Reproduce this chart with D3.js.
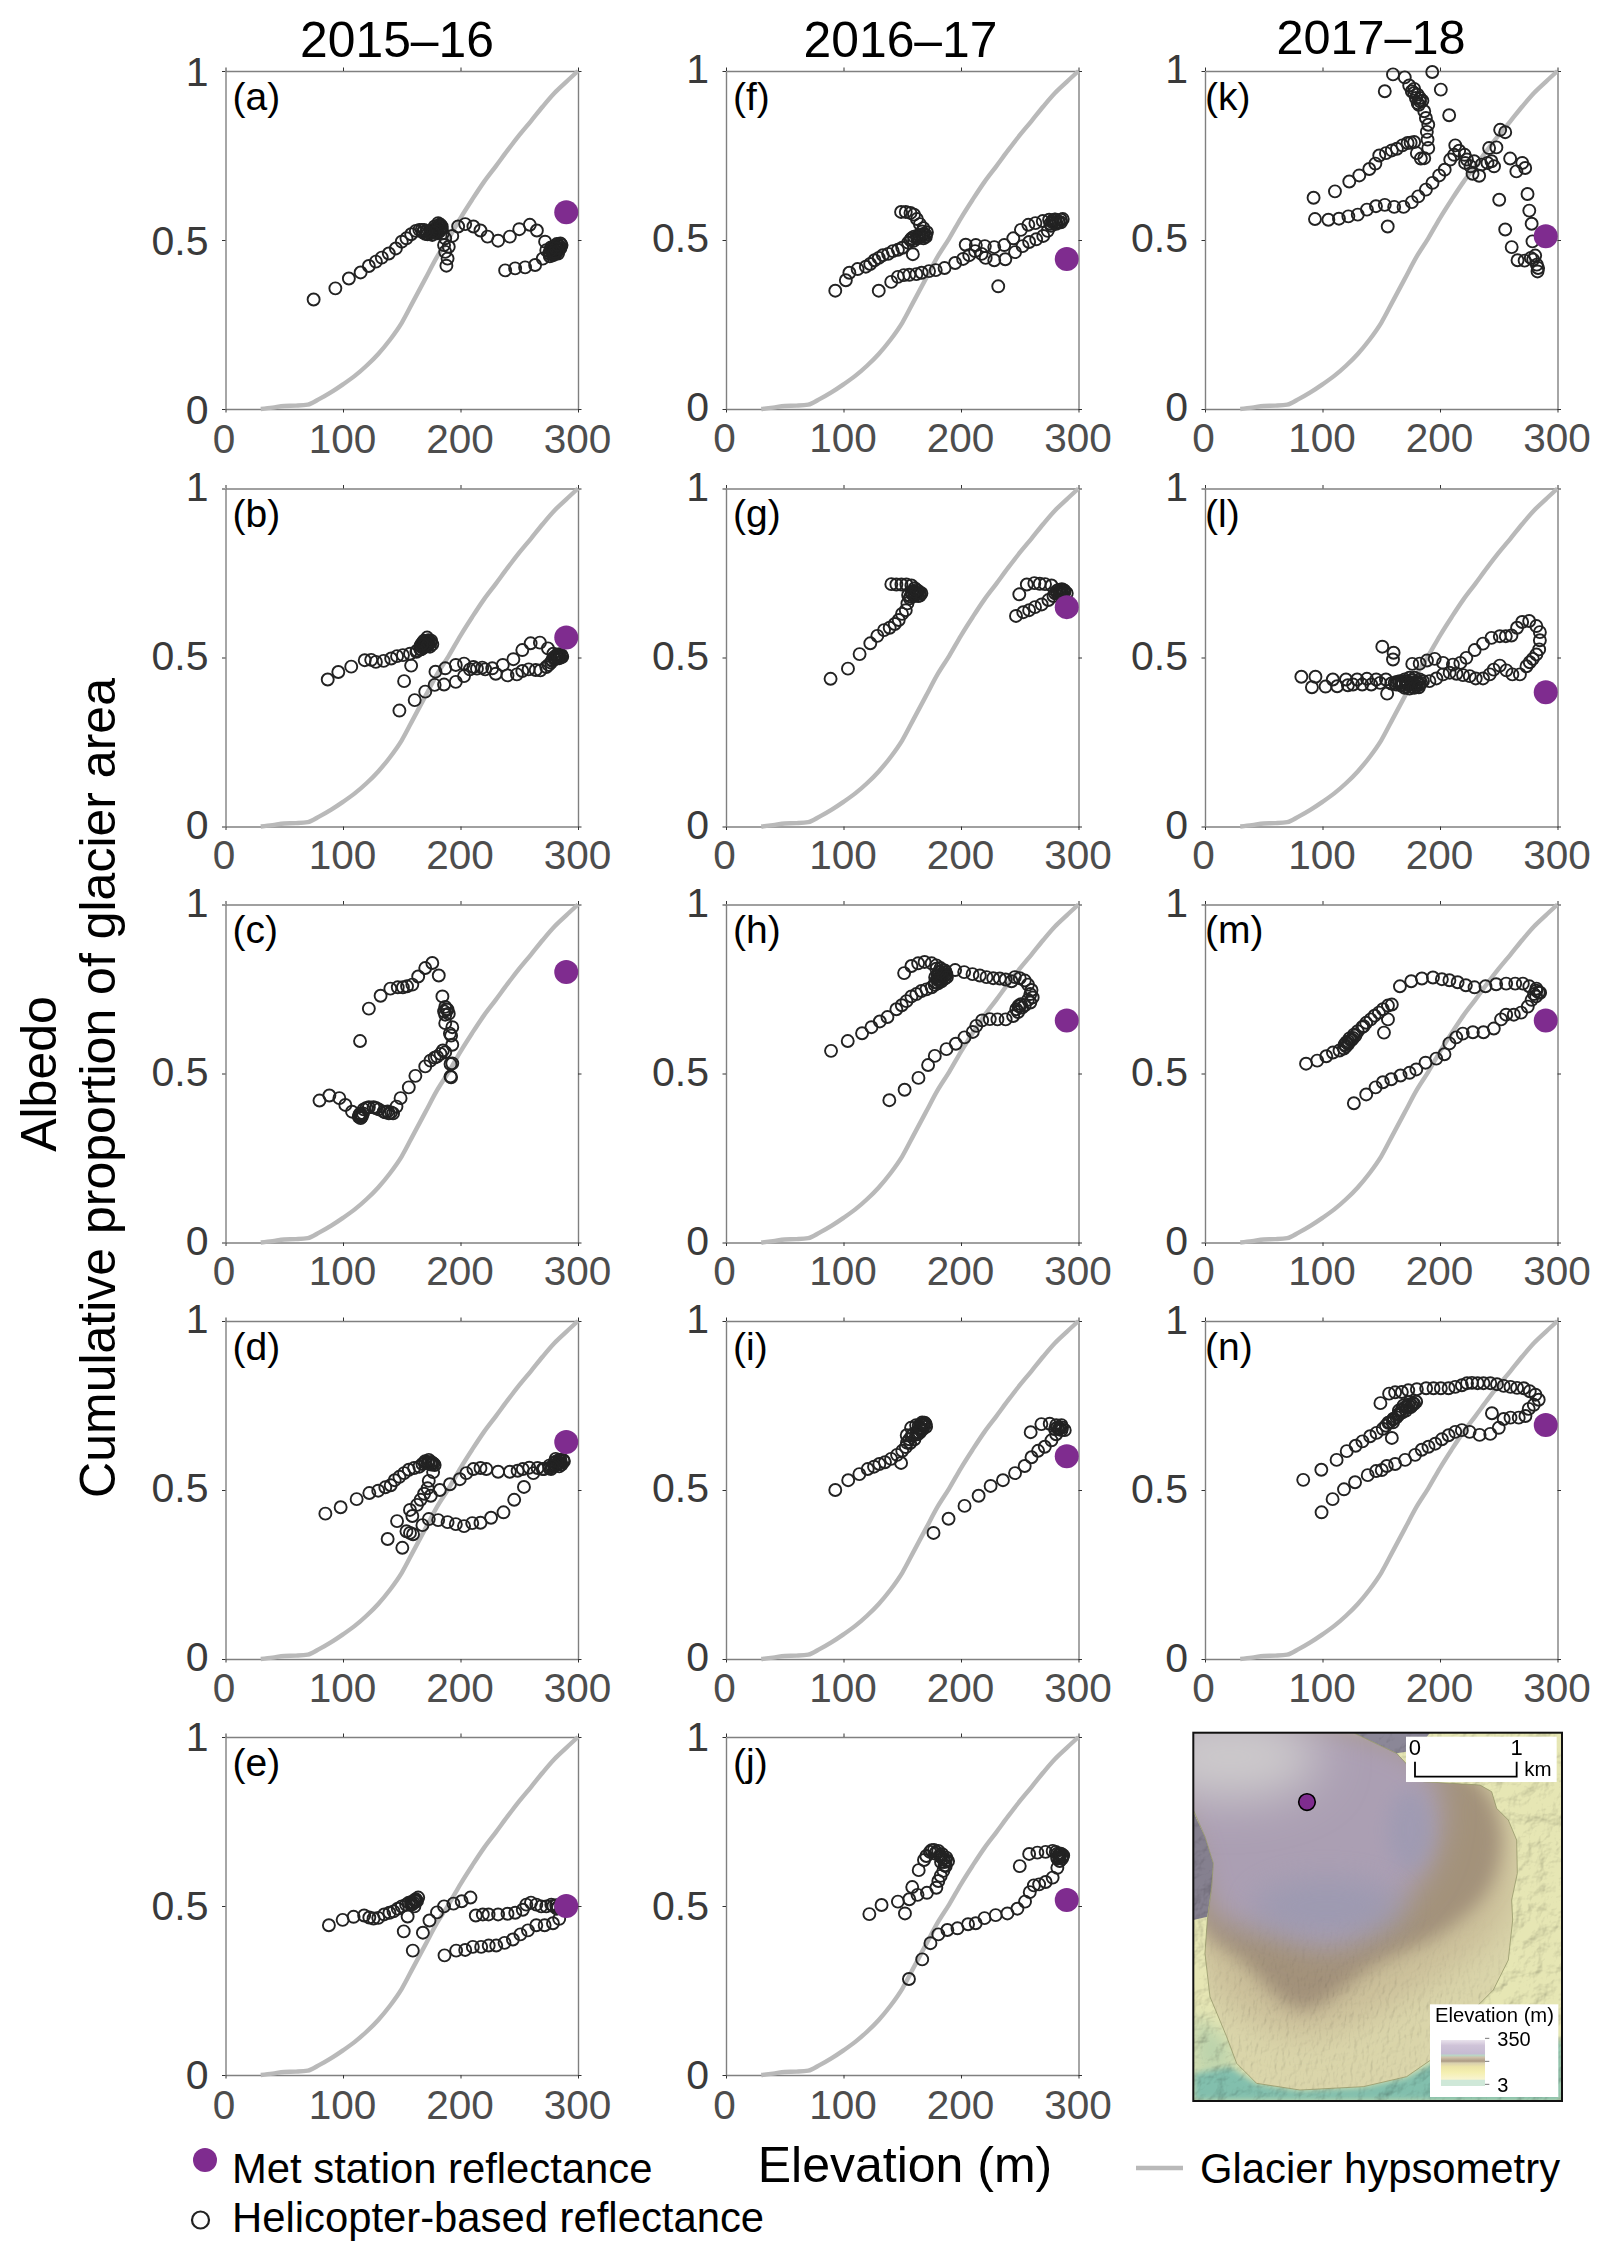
<!DOCTYPE html>
<html><head><meta charset="utf-8">
<script src="https://cdnjs.cloudflare.com/ajax/libs/d3/7.8.5/d3.min.js"></script>
<style>html,body{margin:0;padding:0;background:#fff}svg{display:block}text{font-family:"Liberation Sans",Arial,sans-serif}</style>
</head><body><svg id="c" width="1610" height="2258" viewBox="0 0 1610 2258"></svg>
<script>
// ---------- data: [elevation m, reflectance] ----------
const seasons = ["2015–16","2016–17","2017–18"];
const xTicks = [0,100,200,300];
const yTicks = [0,0.5,1];
const hypsometry = [[30,0],[40,.004],[50,.009],[60,.01],[70,.013],[80,.03],[90,.05],[100,.073],[110,.098],[120,.128],[130,.163],[140,.205],[150,.255],[160,.32],[170,.385],[180,.45],[190,.505],[200,.565],[210,.62],[220,.672],[230,.718],[240,.765],[250,.81],[260,.852],[270,.895],[280,.935],[290,.968],[300,1]];
const metStation = {a:[290,.582],b:[290,.559],c:[290,.8],d:[290,.642],e:[290,.5],f:[290,.444],g:[290,.649],h:[290,.657],i:[290,.6],j:[290,.518],k:[290,.511],l:[290,.397],m:[290,.657],n:[290,.692]};

const heliA = [[75,.324],[93.5,.357],[105,.386],[115,.404],[122,.423],[128,.436],[133,.448],[139,.46],[145,.475],[150,.495],[154,.505],[158,.517],[162,.527],[165,.53],[168,.523],[170,.518],[172,.517],[174,.52],[175,.525],[177,.53],[178.6,.53],[180,.535],[181,.54],[182,.545],[183,.53],[184,.535],[185,.52],[180,.52],[176,.515],[187,.505],[186,.485],[190,.48],[187,.465],[189,.445],[188,.424],[193,.512],[198,.54],[204,.547],[211,.54],[217,.528],[223,.51],[232,.498],[242,.51],[250,.532],[259,.545],[265,.528],[272,.495],[270,.445],[263.5,.426],[255,.419],[246.5,.416],[238,.41],[273,.47],[275.5,.46],[278,.465],[280,.47],[283,.475],[284.5,.482],[283,.47],[281,.46],[279,.472],[277,.478],[281,.482],[285,.49],[282,.488],[279,.455],[276,.452]];
const denseA = [[176,.53],[178,.54],[180,.53],[182,.525],[184,.54],[179,.525],[181,.55],[183,.545],[177,.522],[171,.525],[167,.53],[169,.53],[276,.465],[278,.475],[280,.48],[282,.465],[284,.475],[286,.485],[285,.475],[283,.46],[279,.46],[281,.475],[277,.47],[283,.485],[280,.465]];
const heliB = [[87,.435],[96,.457],[107,.473],[118.5,.492],[124,.493],[128,.487],[134.6,.49],[141,.497],[146,.504],[151,.507],[157,.511],[162.5,.517],[166.5,.524],[168.7,.539],[170,.549],[173,.551],[174.5,.544],[171.6,.534],[168.7,.529],[165.9,.524],[176,.539],[171.6,.559],[168,.545],[172,.542],[166,.535],[174,.532],[158,.476],[152,.43],[148,.343],[161,.374],[170,.399],[178,.419],[186,.42],[196,.428],[203,.445],[208,.465],[214,.467],[221,.465],[230,.452],[240,.447],[248,.45],[252.6,.46],[258,.465],[264,.463],[268,.462],[273,.472],[277,.485],[279.5,.5],[282,.504],[286.6,.502],[284,.498],[281,.496],[278,.492],[275,.478],[178.7,.458],[187,.468],[196,.478],[203,.482],[211,.472],[218.5,.47],[227,.468],[236,.478],[245,.495],[252.6,.522],[259.7,.542],[267.6,.544],[274.4,.527],[279,.511],[283.8,.504]];
const denseB = [[167,.53],[169,.55],[172,.55],[170,.54],[173,.545],[169,.535],[175,.55],[172,.535],[167,.54],[163,.52],[282,.5],[284,.51],[280,.495],[286,.507],[278,.49],[283,.505],[285,.5],[281,.505]];
const heliC = [[114.5,.596],[122,.692],[132,.73],[140.3,.751],[146.6,.755],[151,.755],[154.5,.758],[159,.763],[164,.787],[170,.812],[176,.827],[181.5,.79],[184.6,.728],[187,.697],[186,.684],[189,.689],[187,.674],[190,.677],[188,.69],[187,.649],[193,.637],[191,.618],[192,.612],[193,.585],[187,.563],[183,.558],[180,.55],[178,.547],[185,.568],[174.4,.538],[170,.521],[161.6,.493],[156,.459],[149,.427],[145.5,.402],[142.6,.382],[139,.382],[136,.385],[134.6,.387],[130.4,.394],[128,.398],[126,.4],[122,.4],[120,.398],[117.6,.394],[114.8,.382],[113.4,.372],[115,.368],[116,.376],[107.7,.387],[102,.407],[96.9,.427],[88.4,.435],[80,.42],[191.5,.528],[193,.53],[191.5,.491],[192,.489]];
const denseC = [[117,.382],[114,.378],[116,.372],[141,.385],[138,.388]];
const heliD = [[85,.43],[98,.449],[111.6,.473],[122.4,.491],[130,.498],[136,.508],[140.6,.514],[144,.529],[148,.539],[152,.55],[156,.56],[160.5,.565],[165,.569],[167.6,.577],[170,.585],[173,.589],[176,.58],[178,.574],[172,.582],[175,.575],[176.7,.553],[173,.527],[172,.505],[169,.489],[166,.471],[163,.456],[159,.423],[157,.441],[146,.408],[154,.378],[159.6,.369],[157,.373],[138,.355],[150.5,.329],[167.6,.396],[173,.414],[181,.411],[189,.405],[196,.399],[203,.393],[210,.402],[217,.403],[226,.418],[236.6,.434],[245.7,.471],[254,.509],[262,.55],[270,.562],[275.6,.565],[281,.573],[285.5,.58],[288,.585],[284,.57],[281,.592],[174.7,.483],[182.4,.5],[191,.517],[199.4,.532],[205,.55],[211,.562],[217,.565],[222,.562],[232,.554],[242,.554],[248.6,.557],[253,.562],[258.5,.566],[265.6,.565],[271,.562],[275.6,.572],[280,.582],[284,.589],[287.5,.588],[277,.562],[283,.578]];
const denseD = [[170,.58],[173,.58],[175,.583],[177,.578],[282,.575],[284,.58],[286,.575],[280,.572],[285,.59],[282,.585],[278,.57]];
const heliE = [[88,.443],[99.7,.459],[109,.468],[118,.472],[122.4,.466],[126,.463],[130,.465],[135,.475],[139.5,.48],[143,.484],[146.6,.492],[150,.499],[153.7,.504],[158,.511],[160.8,.517],[164,.525],[162,.513],[159,.505],[156,.51],[155,.469],[160.8,.499],[151.7,.425],[168,.421],[159.4,.368],[173.6,.457],[180,.481],[186,.499],[194,.507],[201,.514],[208.5,.525],[213,.472],[219,.475],[223.9,.475],[232,.475],[240,.477],[246.6,.48],[253,.489],[256,.504],[260,.51],[264.5,.504],[268.7,.499],[273,.499],[277.3,.504],[281.5,.502],[285.8,.499],[284,.462],[278.7,.449],[271.6,.443],[264.5,.443],[257.4,.428],[251,.416],[244.6,.401],[237.5,.391],[230.4,.383],[224,.383],[217.6,.379],[210.5,.379],[204,.37],[196.3,.368],[186.4,.354]];
const denseE = [[160,.51],[162,.52],[158,.505],[163,.515],[279,.5],[283,.497],[286,.495],[282,.492]];
const heliF = [[93,.35],[102,.381],[105,.403],[112,.414],[119,.421],[122.7,.429],[126.4,.44],[130,.447],[133.5,.455],[138,.459],[142,.467],[146.3,.471],[150,.477],[155,.492],[158,.505],[162.6,.509],[166.8,.512],[170,.509],[171,.523],[168,.535],[165,.547],[162.5,.562],[160,.575],[157,.58],[153,.583],[149,.583],[160,.51],[164,.515],[168,.518],[159,.458],[130,.35],[140.6,.376],[146.3,.391],[151.4,.396],[156,.397],[162,.399],[166.5,.403],[172.8,.408],[178.5,.411],[186,.417],[195,.432],[201.8,.444],[207,.455],[212,.467],[217.5,.459],[221,.447],[228.3,.44],[237.7,.443],[246,.464],[252.4,.482],[258,.494],[264,.502],[270,.512],[273.8,.527],[276.7,.542],[281,.553],[285,.56],[278,.558],[283,.552],[276,.548],[204,.486],[212.6,.485],[220.3,.482],[228.3,.479],[236.8,.485],[244.5,.505],[251,.53],[257.3,.545],[263.3,.55],[269.6,.556],[275,.56],[280,.561],[286.6,.562],[231.7,.363]];
const denseF = [[165,.51],[168,.505],[170,.515],[167,.525],[163,.505],[160,.498],[157,.5],[280,.56],[283,.555],[281,.548],[278,.552],[285,.552]];
const heliG = [[89,.437],[103.8,.467],[113.7,.51],[122.8,.542],[128.8,.564],[134.5,.581],[139.3,.588],[143.6,.599],[147,.611],[149.8,.629],[153,.64],[154.4,.66],[156.4,.675],[160,.682],[163.5,.682],[166.3,.69],[163.5,.697],[160.6,.705],[157.8,.713],[153.5,.716],[149.3,.716],[145,.716],[140.7,.717],[158,.69],[162,.692],[165,.683],[155,.685],[246.8,.623],[253,.634],[258,.64],[263,.649],[268.7,.657],[274.4,.67],[278.7,.682],[281.5,.697],[285.8,.702],[290,.69],[286,.687],[282,.69],[288,.698],[284,.695],[277,.713],[271.5,.717],[267,.718],[262.4,.72],[256,.716],[249.6,.687]];
const denseG = [[158,.695],[161,.685],[163,.69],[165,.69],[160,.695],[162,.7],[157,.68],[284,.69],[287,.7],[285,.7],[288,.693],[280,.69],[283,.7]];
const heliH = [[89.4,.567],[103.6,.596],[115.8,.619],[123.8,.637],[130.9,.654],[137.4,.667],[145,.69],[149.6,.702],[153.6,.714],[157.8,.728],[162,.735],[166.3,.744],[170.6,.749],[175,.755],[177.7,.762],[180.5,.767],[183.4,.773],[186.2,.781],[187.6,.793],[186.2,.805],[182.5,.812],[179,.82],[175,.826],[169,.83],[163.5,.826],[157.8,.818],[151.6,.797],[183,.788],[180,.78],[184,.796],[178,.77],[181,.8],[195,.806],[202.7,.8],[209.8,.794],[216,.79],[221.7,.785],[227.4,.782],[233,.781],[238,.778],[243,.773],[245.8,.785],[250,.782],[254.3,.775],[257,.763],[260,.747],[261,.725],[259,.71],[254.3,.702],[250,.699],[248.6,.682],[244.4,.67],[238,.66],[231,.66],[224.5,.661],[218,.657],[213,.641],[210,.623],[203,.607],[195.6,.588],[187.6,.572],[177.7,.552],[172,.525],[163.8,.487],[152,.452],[139,.421],[247,.69],[252,.695],[257,.718],[259,.735]];
const denseH = [[183,.78],[186,.79],[181,.775],[184,.785],[187,.8],[184,.805],[180,.79],[178,.785],[182,.8],[188,.785],[179,.81],[249,.7],[251,.705]];
const heliI = [[93,.5],[104,.529],[113.5,.547],[120.6,.562],[126,.569],[130.5,.577],[135.3,.582],[140.5,.592],[145.6,.604],[150,.616],[153,.627],[156.7,.639],[160.4,.65],[164.6,.669],[167.5,.68],[170.3,.687],[169,.699],[166,.695],[161.8,.692],[157.5,.684],[153.8,.662],[149,.58],[165,.68],[168,.69],[163,.665],[158,.66],[176.6,.373],[189.4,.415],[203,.453],[215,.483],[225.2,.512],[235.7,.529],[246,.55],[254.2,.571],[260,.597],[265.6,.616],[271.3,.628],[277,.647],[281,.665],[285.5,.677],[288.3,.677],[285.5,.692],[281,.692],[284,.683],[280,.68],[275.5,.696],[268.4,.695],[259.3,.671]];
const denseI = [[165,.685],[168,.695],[166,.675],[162,.67],[159,.665],[170,.695],[167,.7],[164,.69],[156,.65],[154,.64],[283,.68],[286,.685],[282,.685]];
const heliJ = [[122,.476],[132.4,.503],[146.3,.513],[156,.52],[163,.533],[171,.539],[179,.554],[180.7,.574],[182.7,.589],[185,.604],[187,.618],[189,.633],[187.5,.643],[184,.653],[180.7,.663],[177,.666],[173.6,.66],[170.5,.648],[168.5,.636],[178,.655],[183,.645],[186,.63],[164,.606],[158.5,.556],[152.3,.478],[155.7,.284],[167,.342],[174,.39],[180.7,.416],[188.4,.429],[197,.434],[206,.446],[212.5,.449],[220,.464],[229.5,.473],[239.5,.478],[248,.492],[254.5,.513],[258.5,.541],[262,.561],[266.5,.564],[272,.571],[278,.584],[282,.613],[284,.633],[286.4,.646],[283.5,.653],[280.7,.66],[284,.642],[287,.65],[282,.644],[278,.663],[272,.66],[265,.658],[258,.654],[250,.618]];
const denseJ = [[183,.63],[187,.635],[182,.65],[185,.64],[179,.66],[175,.665],[186,.62],[284,.65],[282,.64],[286,.64],[282,.655],[285,.655]];
const heliK = [[92.4,.625],[110.6,.644],[122.8,.673],[131.3,.691],[139.8,.71],[145,.726],[148.3,.75],[154,.757],[159,.765],[163.3,.77],[168,.78],[172.4,.787],[175,.788],[178,.79],[180.3,.757],[183.7,.741],[186.6,.742],[190,.772],[189.4,.797],[188.8,.82],[190,.841],[188,.861],[186.6,.881],[185,.912],[181,.905],[183,.91],[179.5,.92],[178,.947],[173.8,.957],[176,.94],[170,.981],[160,.99],[153,.94],[193.4,.997],[200.7,.945],[207.8,.869],[93.6,.562],[105,.56],[114,.563],[122,.57],[130,.575],[137.8,.59],[145.5,.6],[153,.604],[155.5,.54],[161,.598],[169,.598],[176,.612],[181.5,.629],[188,.649],[193.6,.669],[199.3,.691],[204,.708],[208.7,.738],[212,.752],[213,.78],[216.3,.764],[221,.752],[222.9,.738],[221.4,.728],[229,.733],[226,.718],[227.7,.696],[233.3,.69],[235.3,.723],[240.4,.728],[243.8,.733],[246,.718],[241.8,.772],[248,.774],[251.2,.826],[255.5,.819],[250.4,.619],[255.5,.531],[261,.479],[266,.44],[272,.439],[277.3,.447],[281,.454],[279.3,.442],[282.4,.427],[283.5,.417],[283,.407],[278.7,.496],[278,.548],[276,.587],[274.5,.636],[272.5,.713],[270,.728],[265,.703],[259.7,.741]];
const denseK = [[181,.93],[183,.92],[182,.9],[178,.935]];
const heliL = [[82,.443],[94,.443],[91,.412],[102.6,.414],[108.8,.435],[112.5,.415],[120,.435],[121.6,.418],[126,.42],[129.5,.435],[133.8,.42],[137.8,.437],[141.5,.42],[145.7,.435],[149,.425],[154,.435],[158.5,.423],[162.8,.42],[167,.417],[171.3,.413],[175.6,.413],[179.8,.415],[182.7,.42],[185.5,.43],[182.7,.435],[178.4,.44],[174,.44],[170,.435],[165.6,.43],[161.4,.425],[176,.425],[171,.424],[167,.428],[180,.428],[155,.393],[160,.494],[160.5,.514],[150.9,.532],[176.4,.481],[182.7,.482],[188.9,.491],[195.5,.496],[202.6,.484],[211,.479],[217.3,.484],[222.4,.499],[229.5,.522],[236.6,.541],[243.8,.558],[250.9,.563],[256,.563],[260.8,.565],[265.6,.588],[269.9,.605],[275.9,.608],[282,.593],[285,.575],[285,.551],[284.4,.524],[282,.509],[279,.496],[276.4,.486],[273.6,.474],[268,.45],[261.6,.45],[256.5,.462],[250.9,.476],[245.7,.464],[242.3,.45],[236.6,.438],[230.4,.438],[225.3,.445],[219.6,.448],[214,.452],[208.2,.455],[202.6,.45],[196.9,.438],[191,.43]];
const denseL = [[165,.425],[168,.42],[172,.42],[175,.42],[178,.42],[172,.43],[176,.432],[181,.427],[184,.425],[168,.428],[163,.428],[170,.41],[174,.408],[178,.41],[182,.412]];
const heliM = [[86,.529],[95.5,.538],[103.2,.551],[108.9,.562],[114.5,.568],[118.2,.574],[120.2,.592],[123,.604],[126.7,.615],[130,.625],[133.8,.637],[137.2,.65],[141,.66],[144.3,.671],[148,.68],[151.4,.69],[155.7,.701],[159,.704],[155.7,.66],[152.3,.621],[118.8,.585],[122,.595],[125,.6],[128,.612],[135,.64],[165.9,.758],[175.5,.773],[184.6,.781],[194,.784],[201.6,.779],[208,.776],[215,.77],[222,.761],[229.4,.755],[238.7,.758],[247.8,.764],[256.3,.766],[264,.766],[270.5,.766],[276,.758],[282,.751],[285.2,.739],[281.8,.728],[278,.718],[274.7,.698],[269,.68],[262.8,.674],[256.3,.674],[252,.66],[245.8,.633],[237,.622],[228,.622],[219.4,.618],[213.8,.607],[208,.589],[203.8,.557],[196.8,.544],[187.7,.532],[179.8,.512],[174,.502],[166.4,.494],[158.5,.483],[151.4,.474],[145.2,.459],[137.2,.438],[126.7,.412]];
const denseM = [[122,.588],[120,.58],[124,.598],[126,.605],[284,.74],[282,.745],[280,.735]];
const heliN = [[83.6,.53],[99,.56],[112,.589],[120.6,.615],[128.2,.631],[134,.644],[140.5,.659],[146,.669],[151.3,.681],[156,.699],[160.4,.711],[164.6,.722],[167.5,.737],[170.3,.745],[173,.752],[176.9,.757],[179.7,.761],[159,.654],[175,.745],[171,.735],[165,.735],[160,.7],[149.3,.757],[156.7,.785],[161.8,.789],[167.5,.79],[173,.795],[180.3,.798],[188.2,.801],[194.5,.801],[200.7,.801],[207.3,.801],[213,.805],[218.6,.81],[223,.816],[227.2,.817],[232,.816],[237,.816],[242.8,.816],[248.5,.813],[254.2,.808],[260,.805],[265.6,.802],[271.3,.801],[276.4,.792],[281.2,.782],[284,.767],[279.8,.752],[275.5,.74],[272.7,.719],[267,.714],[260,.714],[254.2,.71],[244.2,.727],[250,.684],[242.8,.666],[233.7,.663],[225.2,.672],[218.6,.677],[213,.672],[207.3,.662],[201.6,.65],[196,.637],[190.2,.628],[184.5,.619],[178.8,.604],[170.3,.589],[161.8,.577],[154.7,.571],[150.4,.559],[145.6,.556],[138.5,.544],[127.7,.523],[118.3,.502],[108.6,.473],[99.2,.434]];
const denseN = [[176,.75],[172,.745],[178,.755],[168,.73],[163,.715],[160,.708],[157,.7],[154,.69],[174,.76],[169,.75],[165,.725]];

// panels: letter, series, grid slot, label nudges
const panels = [
 {id:"a",pts:heliA.concat(denseA),c:0,r:0,ly:0},{id:"b",pts:heliB.concat(denseB),c:0,r:1,ly:-3},{id:"c",pts:heliC.concat(denseC),c:0,r:2,ly:-3},{id:"d",pts:heliD.concat(denseD),c:0,r:3,ly:-3},{id:"e",pts:heliE.concat(denseE),c:0,r:4,ly:-1},
 {id:"f",pts:heliF.concat(denseF),c:1,r:0,ly:-3},{id:"g",pts:heliG.concat(denseG),c:1,r:1,ly:-3},{id:"h",pts:heliH.concat(denseH),c:1,r:2,ly:-3},{id:"i",pts:heliI.concat(denseI),c:1,r:3,ly:-3},{id:"j",pts:heliJ.concat(denseJ),c:1,r:4,ly:-1},
 {id:"k",pts:heliK.concat(denseK),c:2,r:0,ly:-3},{id:"l",pts:heliL.concat(denseL),c:2,r:1,ly:-3},{id:"m",pts:heliM.concat(denseM),c:2,r:2,ly:-3},{id:"n",pts:heliN.concat(denseN),c:2,r:3,ly:-2}];

// ---------- layout ----------
const colLeft=[225.5,726,1205], rowTop=[71,488.5,904.5,1321,1737], W=352.5, H=338;
const titleX=[397,900.5,1371], letterX=[7,7,0];
const GRAY="#b9b9b9", PURPLE="#7f2c8f", RING="#222";
const svg=d3.select("#c");

seasons.forEach((s,i)=>svg.append("text").attr("x",titleX[i]).attr("y",i==2?54:57).attr("text-anchor","middle").attr("font-size",i==2?48.6:49.8).attr("fill","#000").text(s));

panels.forEach(p=>{
  const g=svg.append("g").attr("transform",`translate(${colLeft[p.c]},${rowTop[p.r]})`);
  const x=d3.scaleLinear().domain([0,300]).range([0,W]);
  const y=d3.scaleLinear().domain([0,1]).range([H,0]);
  const fmt=d=>d===0?"0":(d===1?"1":String(d));
  const ax=g.append("g").attr("transform",`translate(0,${H})`).call(d3.axisBottom(x).tickValues(xTicks).tickSize(3.5).tickSizeOuter(0).tickFormat(fmt));
  const ay=g.append("g").call(d3.axisLeft(y).tickValues(yTicks).tickSize(3.5).tickSizeOuter(0).tickFormat(fmt));
  g.append("g").call(d3.axisTop(x).tickValues(xTicks).tickSize(3.5).tickSizeOuter(0).tickFormat(""));
  g.append("g").attr("transform",`translate(${W},0)`).call(d3.axisRight(y).tickValues(yTicks).tickSize(3.5).tickSizeOuter(0).tickFormat(""));
  g.selectAll(".domain").attr("stroke","#808080").attr("stroke-width",1.4);
  g.selectAll(".tick line").attr("stroke","#333").attr("stroke-width",1);
  ax.selectAll("text").attr("font-size",40.5).attr("fill","#4d4d4d").attr("dy",0).attr("y",44+p.ly/2).attr("dx",d=>d===0?-2:-1).style("font-family",'"Liberation Sans"');
  ay.selectAll("text").attr("font-size",41).attr("fill","#3a3a3a").attr("x",-17).attr("y",p.ly).attr("dy","0.36em").style("font-family",'"Liberation Sans"');
  g.append("path").datum(hypsometry).attr("fill","none").attr("stroke",GRAY).attr("stroke-width",4.4).attr("stroke-linecap","butt")
    .attr("d",d3.line().x(d=>x(d[0])).y(d=>y(d[1])).curve(d3.curveMonotoneX));
  g.selectAll("circle.h").data(p.pts).join("circle").attr("class","h").attr("cx",d=>x(d[0])).attr("cy",d=>y(d[1])).attr("r",6).attr("fill","none").attr("stroke",RING).attr("stroke-width",1.9);
  g.append("circle").datum(metStation[p.id]).attr("cx",d=>x(d[0])).attr("cy",d=>y(d[1])).attr("r",12).attr("fill",PURPLE);
  g.append("text").attr("x",letterX[p.c]).attr("y",38.5).attr("font-size",39).attr("fill","#000").text(`(${p.id})`);
});

// axis titles
svg.append("text").attr("transform","translate(56,1074) rotate(-90)").attr("text-anchor","middle").attr("font-size",50).text("Albedo");
svg.append("text").attr("transform","translate(115,1088) rotate(-90)").attr("text-anchor","middle").attr("font-size",50).text("Cumulative proportion of glacier area");
svg.append("text").attr("x",905).attr("y",2182).attr("text-anchor","middle").attr("font-size",50).text("Elevation (m)");

// legend
svg.append("circle").attr("cx",205).attr("cy",2160).attr("r",12).attr("fill",PURPLE);
svg.append("circle").attr("cx",200.5).attr("cy",2220).attr("r",8.5).attr("fill","none").attr("stroke",RING).attr("stroke-width",2.2);
svg.append("line").attr("x1",1136).attr("x2",1183).attr("y1",2168).attr("y2",2168).attr("stroke",GRAY).attr("stroke-width",4.4);
svg.append("text").attr("x",232).attr("y",2183).attr("font-size",41.8).text("Met station reflectance");
svg.append("text").attr("x",232).attr("y",2232).attr("font-size",41.8).text("Helicopter-based reflectance");
svg.append("text").attr("x",1200).attr("y",2183).attr("font-size",41.8).text("Glacier hypsometry");

// ---------- location map (shapes given in a 1440×1200 map frame) ----------
const mx=d3.scaleLinear().domain([190,1296]).range([1193.3,1562]);
const my=d3.scaleLinear().domain([38,1143]).range([1732.7,2101]);
const glacierOutline=[[190,270],[190,38],[670,38],[800,100],[880,185],[1050,195],[1085,215],[1100,265],[1135,300],[1160,360],[1162,460],[1145,540],[1148,600],[1135,720],[1090,810],[1030,870],[960,980],[830,1070],[700,1100],[510,1110],[380,1090],[320,1030],[290,950],[240,830],[225,700],[232,600],[245,500],[250,430],[225,350]];
const tanZone=[[150,0],[1050,150],[1160,340],[1130,600],[900,790],[520,950],[270,830],[180,600]];
const brownZone=[[150,0],[1010,160],[1110,320],[1080,500],[950,630],[740,735],[515,870],[340,730],[200,600]];
const purpleZone=[[120,0],[880,120],[930,340],[830,540],[620,680],[420,640],[260,590],[200,430]];
const rockLeft=[[190,275],[225,350],[250,430],[245,500],[232,590],[190,600]];
const rockTop=[[670,38],[900,38],[860,90],[800,100]];
const seaShore=[[190,1143],[190,1060],[300,1040],[380,1090],[510,1110],[700,1100],[830,1070],[960,1000],[1296,960],[1296,1143]];
const greenLand=[[190,880],[290,950],[330,1040],[190,1070]];
const barStops=[[0,"#e9e2ec"],[.12,"#cfc3d8"],[.3,"#c5bbd2"],[.33,"#b8d8c8"],[.38,"#cdbfa8"],[.46,"#ab9a84"],[.5,"#d8cfae"],[.58,"#ece4a8"],[.7,"#f4efb0"],[.85,"#f8f4d0"],[.88,"#cfe8d8"],[1,"#cfe8d8"]];
const poly=d3.line().x(d=>mx(d[0])).y(d=>my(d[1])).curve(d3.curveCatmullRomClosed.alpha(.5));
const straight=d3.line().x(d=>mx(d[0])).y(d=>my(d[1]));
const defs=svg.append("defs");
const fullW=mx(1296)-mx(190), fullH=my(1143)-my(38);
defs.append("clipPath").attr("id","mapClip").append("rect").attr("x",mx(190)).attr("y",my(38)).attr("width",fullW).attr("height",fullH);
defs.append("clipPath").attr("id","iceClip").append("path").attr("d",straight(glacierOutline)+"Z");
[["b4",3],["b10",9],["b16",15],["b24",24]].forEach(([id,s])=>defs.append("filter").attr("id",id).attr("filterUnits","userSpaceOnUse").attr("x",mx(190)-120).attr("y",my(38)-120).attr("width",fullW+240).attr("height",fullH+240).append("feGaussianBlur").attr("stdDeviation",s));
const rel=defs.append("filter").attr("id","relief").attr("x",0).attr("y",0).attr("width","100%").attr("height","100%");
rel.append("feTurbulence").attr("type","fractalNoise").attr("baseFrequency",.05).attr("numOctaves",5).attr("seed",7).attr("result","n");
const lit=rel.append("feDiffuseLighting").attr("in","n").attr("surfaceScale",3.2).attr("lighting-color","#fff").attr("diffuseConstant",1.15);
lit.append("feDistantLight").attr("azimuth",225).attr("elevation",58);
const rel2=defs.append("filter").attr("id","streak").attr("x",0).attr("y",0).attr("width","100%").attr("height","100%");
rel2.append("feTurbulence").attr("type","fractalNoise").attr("baseFrequency","0.25 0.12").attr("numOctaves",3).attr("seed",3).attr("result","n");
const lit2=rel2.append("feDiffuseLighting").attr("in","n").attr("surfaceScale",1.4).attr("lighting-color","#fff").attr("diffuseConstant",1.15);
lit2.append("feDistantLight").attr("azimuth",225).attr("elevation",60);
const grad=defs.append("linearGradient").attr("id","bar").attr("x1",0).attr("x2",0).attr("y1",0).attr("y2",1);
barStops.forEach(s=>grad.append("stop").attr("offset",s[0]).attr("stop-color",s[1]));
const fade=defs.append("linearGradient").attr("id","fadeMask").attr("x1",0).attr("x2",0).attr("y1",0).attr("y2",1);
[[0,"#000"],[.5,"#000"],[.72,"#fff"],[1,"#fff"]].forEach(s=>fade.append("stop").attr("offset",s[0]).attr("stop-color",s[1]));
defs.append("mask").attr("id","lowerIce").append("rect").attr("x",mx(190)).attr("y",my(38)).attr("width",fullW).attr("height",fullH).attr("fill","url(#fadeMask)");

const m=svg.append("g").attr("clip-path","url(#mapClip)");
m.append("rect").attr("x",mx(190)).attr("y",my(38)).attr("width",fullW).attr("height",fullH).attr("fill","#e6e6b4");
m.append("path").attr("d",straight(greenLand)+"Z").attr("fill","#bcd3ac").attr("filter","url(#b10)");
m.append("path").attr("d",straight(seaShore)+"Z").attr("fill","#82bfad").attr("filter","url(#b4)");
m.append("path").attr("d",straight(rockLeft)+"Z").attr("fill","#85808f");
m.append("path").attr("d",straight(rockTop)+"Z").attr("fill","#8b8797");
m.append("rect").attr("x",mx(190)).attr("y",my(38)).attr("width",fullW).attr("height",fullH).attr("filter","url(#relief)").style("mix-blend-mode","multiply").attr("opacity",.8);
const ice=m.append("g").attr("clip-path","url(#iceClip)");
ice.append("rect").attr("x",mx(190)).attr("y",my(38)).attr("width",fullW).attr("height",fullH).attr("fill","#dad5aa");
ice.append("path").attr("d",poly(tanZone)).attr("fill","#cbbf9a").attr("filter","url(#b16)");
ice.append("path").attr("d",poly(brownZone)).attr("fill","#a3927a").attr("filter","url(#b10)");
ice.append("path").attr("d",poly(purpleZone)).attr("fill","#ab9fb3").attr("filter","url(#b16)");
ice.append("ellipse").attr("cx",mx(590)).attr("cy",my(560)).attr("rx",75).attr("ry",28).attr("fill","#9a99b1").attr("opacity",.8).attr("filter","url(#b16)");
ice.append("ellipse").attr("cx",mx(840)).attr("cy",my(330)).attr("rx",22).attr("ry",40).attr("fill","#9b9ab3").attr("opacity",.7).attr("filter","url(#b10)");
ice.append("ellipse").attr("cx",mx(300)).attr("cy",my(110)).attr("rx",90).attr("ry",42).attr("fill","#cdcacc").attr("filter","url(#b24)");
ice.append("rect").attr("x",mx(190)).attr("y",my(38)).attr("width",fullW).attr("height",fullH).attr("filter","url(#streak)").attr("mask","url(#lowerIce)").style("mix-blend-mode","multiply").attr("opacity",.45);
m.append("path").attr("d",straight(glacierOutline)+"Z").attr("fill","none").attr("stroke","#8d8f62").attr("stroke-width",.7);
// scale box
m.append("rect").attr("x",mx(828)).attr("y",my(50)).attr("width",mx(1280)-mx(828)).attr("height",my(186)-my(50)).attr("fill","#fff");
m.append("path").attr("d",d3.line()([[mx(855),my(125)],[mx(855),my(170)],[mx(1160),my(170)],[mx(1160),my(125)]])).attr("fill","none").attr("stroke","#000").attr("stroke-width",1.8);
[["0",855,105],["1",1160,105]].forEach(t=>m.append("text").attr("x",mx(t[1])).attr("y",my(t[2])).attr("text-anchor","middle").attr("font-size",22).text(t[0]));
m.append("text").attr("x",mx(1183)).attr("y",my(168)).attr("font-size",20.5).text("km");
// colour bar box
m.append("rect").attr("x",mx(900)).attr("y",my(853)).attr("width",mx(1285)-mx(900)).attr("height",my(1131)-my(853)).attr("fill","#fff");
m.append("text").attr("x",mx(915)).attr("y",my(905)).attr("font-size",20.2).text("Elevation (m)");
m.append("rect").attr("x",mx(933)).attr("y",my(960)).attr("width",mx(1065)-mx(933)).attr("height",my(1098)-my(960)).attr("fill","url(#bar)");
[955,1024,1093].forEach(t=>m.append("line").attr("x1",mx(1065)).attr("x2",mx(1078)).attr("y1",my(t)).attr("y2",my(t)).attr("stroke","#777").attr("stroke-width",1));
m.append("text").attr("x",mx(1102)).attr("y",my(978)).attr("font-size",20).text("350");
m.append("text").attr("x",mx(1102)).attr("y",my(1117)).attr("font-size",20).text("3");
m.append("circle").attr("cx",mx(531)).attr("cy",my(246)).attr("r",8.3).attr("fill",PURPLE).attr("stroke","#000").attr("stroke-width",1.6);
svg.append("rect").attr("x",mx(190)).attr("y",my(38)).attr("width",fullW).attr("height",fullH).attr("fill","none").attr("stroke","#111").attr("stroke-width",2);
</script></body></html>
